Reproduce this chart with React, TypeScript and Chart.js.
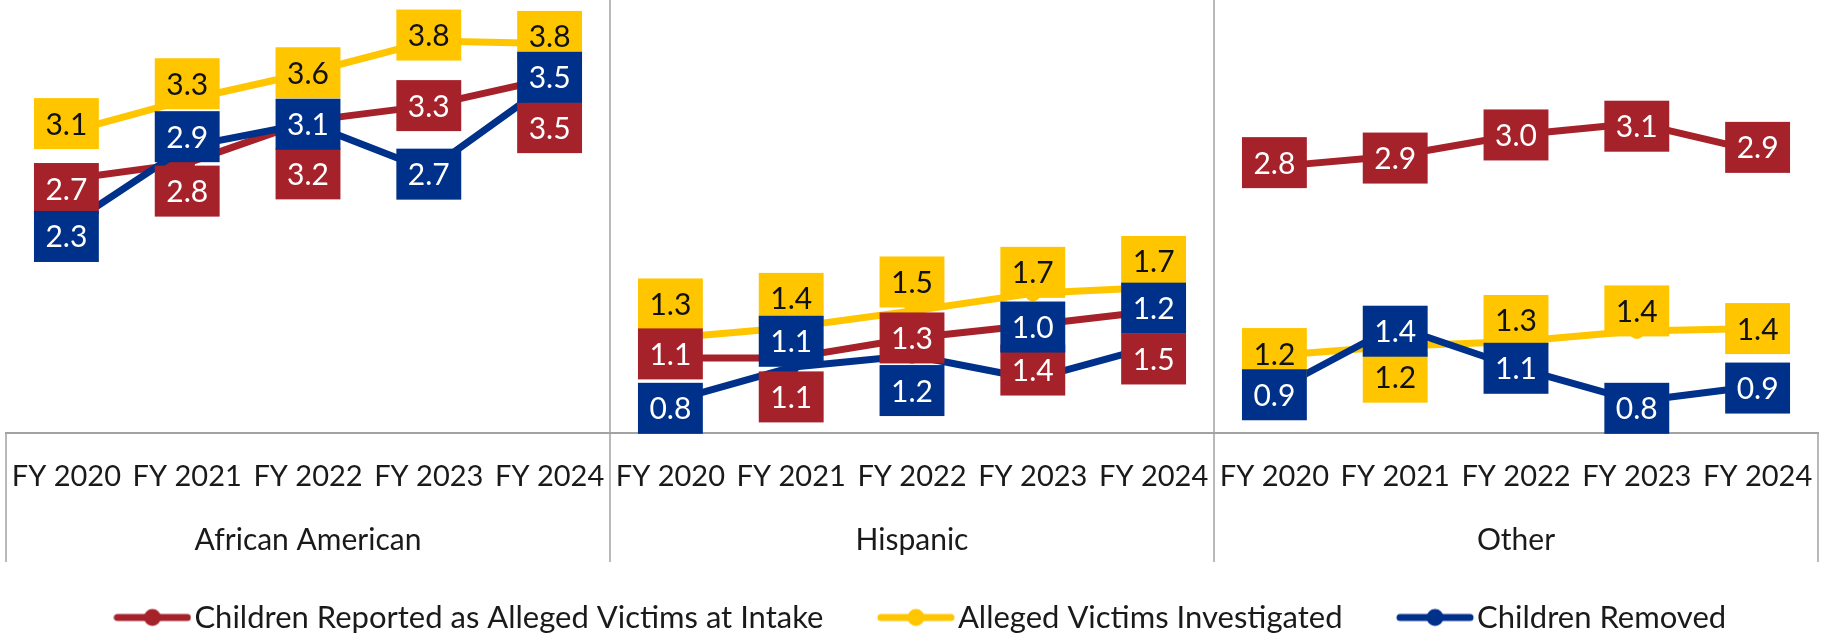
import React, { useEffect, useRef } from 'react';
import { Chart, registerables } from 'chart.js';

Chart.register(...registerables);

// ---------- data ----------
const years = ['FY 2020', 'FY 2021', 'FY 2022', 'FY 2023', 'FY 2024'];
const groups = ['African American', 'Hispanic', 'Other'];
const seriesNames = [
  'Children Reported as Alleged Victims at Intake',
  'Alleged Victims Investigated',
  'Children Removed',
];
// values per group in order: African American (5), Hispanic (5), Other (5)
const reportedAtIntake = [2.66, 2.8, 3.16, 3.29, 3.52, 1.14, 1.14, 1.31, 1.42, 1.54, 2.77, 2.86, 3.04, 3.14, 2.9];
const victimsInvestigated = [3.06, 3.34, 3.57, 3.84, 3.82, 1.31, 1.4, 1.54, 1.69, 1.74, 1.16, 1.24, 1.28, 1.37, 1.39];
const childrenRemoved = [2.26, 2.94, 3.14, 2.74, 3.48, 0.77, 1.06, 1.16, 0.96, 1.24, 0.86, 1.41, 1.06, 0.77, 0.9];

// ---------- styles ----------
const RED = '#A6222B';
const YELLOW = '#FFC600';
const BLUE = '#00318A';
const colors = [RED, YELLOW, BLUE];
const labelTextColors = ['#ffffff', '#111111', '#ffffff'];
// vertical shift (px) of each data-label box from its point
const labelShiftReported = [9, 28, 53, 0, 49, -4, 39, 0, 45, 48, -4, 2, 0, 3, -4];
const labelShiftInvestigated = [-9, -16, 0, -6, -7, -34, -29, -29, -21, -26, -2, 31, -21, -20, 0];
const labelShiftRemoved = [10, -10, 1, 4, -6, 7, -26, 35, -52, -38, 4, 5, 1, 7, 2];
const labelShifts = [labelShiftReported, labelShiftInvestigated, labelShiftRemoved];

const FONT = 'Lato, "Open Sans", sans-serif';
const AXIS_GREY = '#a3a3a3';
const PLOT_BOTTOM = 433;
const PAD_BOTTOM = -4;
const LEGEND_SHIFT = 14;

function legendIcon(color: string) {
  const c = document.createElement('canvas');
  c.width = 78;
  c.height = 20;
  const g = c.getContext('2d')!;
  g.strokeStyle = color;
  g.lineWidth = 7;
  g.lineCap = 'round';
  g.beginPath();
  g.moveTo(4, 10);
  g.lineTo(74, 10);
  g.stroke();
  g.fillStyle = color;
  g.beginPath();
  g.arc(39, 10, 8.5, 0, Math.PI * 2);
  g.fill();
  return c;
}

const framePlugin = {
  id: 'groupFrame',
  afterLayout(chart: any) {
    if (chart.legend) {
      chart.legend.left += LEGEND_SHIFT;
      chart.legend.right += LEGEND_SHIFT;
    }
  },
  beforeDatasetsDraw(chart: any) {
    const { ctx, chartArea } = chart;
    const x = chart.scales.x;
    const n = years.length;
    ctx.save();
    ctx.strokeStyle = AXIS_GREY;
    ctx.lineWidth = 1.5;
    const bottom = 562;
    ctx.beginPath();
    ctx.moveTo(chartArea.left, PLOT_BOTTOM);
    ctx.lineTo(chartArea.left, bottom);
    ctx.moveTo(chartArea.right, PLOT_BOTTOM);
    ctx.lineTo(chartArea.right, bottom);
    for (let g = 1; g < groups.length; g++) {
      const sx = (x.getPixelForValue(g * n - 1) + x.getPixelForValue(g * n)) / 2;
      ctx.moveTo(sx, 0);
      ctx.lineTo(sx, bottom);
    }
    ctx.stroke();
    ctx.fillStyle = '#1a1a1a';
    ctx.font = `30px ${FONT}`;
    ctx.textAlign = 'center';
    ctx.textBaseline = 'alphabetic';
    groups.forEach((name, g) => {
      const cx = (x.getPixelForValue(g * n) + x.getPixelForValue(g * n + n - 1)) / 2;
      ctx.fillText(name, cx, 550);
    });
    ctx.restore();
  },
};

const labelPlugin = {
  id: 'boxLabels',
  afterDatasetsDraw(chart: any) {
    const { ctx } = chart;
    const seriesValues = [reportedAtIntake, victimsInvestigated, childrenRemoved];
    const drawOrder = [1, 0, 2];
    ctx.save();
    ctx.font = `30px ${FONT}`;
    ctx.textAlign = 'center';
    ctx.textBaseline = 'alphabetic';
    drawOrder.forEach((i) => {
      const meta = chart.getDatasetMeta(i);
      meta.data.forEach((pt: any, j: number) => {
        const text = seriesValues[i][j].toFixed(1);
        const w = ctx.measureText(text).width + 23;
        const h = 51;
        const cy = pt.y + labelShifts[i][j];
        ctx.fillStyle = colors[i];
        ctx.fillRect(pt.x - w / 2, cy - h / 2, w, h);
        ctx.fillStyle = labelTextColors[i];
        ctx.fillText(text, pt.x, cy + 11);
      });
    });
    ctx.restore();
  },
};

export default function App() {
  const ref = useRef<HTMLCanvasElement | null>(null);

  useEffect(() => {
    if (!ref.current) return;
    const icons = colors.map(legendIcon);
    const lastInGroup = (i: number) => i % years.length === years.length - 1;
    const mk = (idx: number, data: number[], order: number) => ({
      label: seriesNames[idx],
      data,
      borderColor: colors[idx],
      backgroundColor: colors[idx],
      borderWidth: 7,
      borderJoinStyle: 'round' as const,
      pointRadius: 8,
      pointBorderWidth: 0,
      pointBackgroundColor: colors[idx],
      order,
      tension: 0,
      segment: {
        borderColor: (c: any) => (lastInGroup(c.p0DataIndex) ? 'rgba(0,0,0,0)' : colors[idx]),
      },
    });

    const chart = new Chart(ref.current, {
      type: 'line',
      data: {
        labels: groups.flatMap(() => years),
        datasets: [
          mk(0, reportedAtIntake, 1),
          mk(1, victimsInvestigated, 2),
          mk(2, childrenRemoved, 0),
        ],
      },
      options: {
        responsive: false,
        animation: false,
        devicePixelRatio: 1,
        layout: { autoPadding: false, padding: { left: 6, right: 11, top: 0, bottom: PAD_BOTTOM } },
        scales: {
          y: { display: false, min: 0.5, max: 4.19 },
          x: {
            type: 'category',
            offset: true,
            grid: { display: false, drawTicks: false },
            border: { display: true, color: AXIS_GREY, width: 2 },
            ticks: {
              font: { family: FONT, size: 29 },
              color: '#1a1a1a',
              padding: 26,
              autoSkip: false,
              maxRotation: 0,
            },
            afterFit: (s: any) => {
              const lh = s.chart.legend ? s.chart.legend.height : 0;
              s.height = s.chart.height - PAD_BOTTOM - lh - PLOT_BOTTOM;
              s.paddingLeft = 0;
              s.paddingRight = 0;
            },
          },
        },
        plugins: {
          tooltip: { enabled: false },
          legend: {
            position: 'bottom',
            labels: {
              usePointStyle: true,
              pointStyleWidth: 53,
              padding: 66,
              color: '#1a1a1a',
              font: { family: FONT, size: 31 },
              generateLabels: () =>
                seriesNames.map((name, i) => ({
                  text: name,
                  pointStyle: icons[i] as any,
                  fillStyle: colors[i],
                  strokeStyle: colors[i],
                  lineWidth: 0,
                  hidden: false,
                  datasetIndex: i,
                  fontColor: '#1a1a1a',
                })),
            },
          },
        },
      },
      plugins: [framePlugin, labelPlugin],
    } as any);
    return () => chart.destroy();
  }, []);

  return (
    <div style={{ position: 'absolute', left: 0, top: 0, width: 1829, height: 639, background: '#fff' }}>
      <canvas ref={ref} width={1829} height={639} style={{ display: 'block' }} />
    </div>
  );
}
